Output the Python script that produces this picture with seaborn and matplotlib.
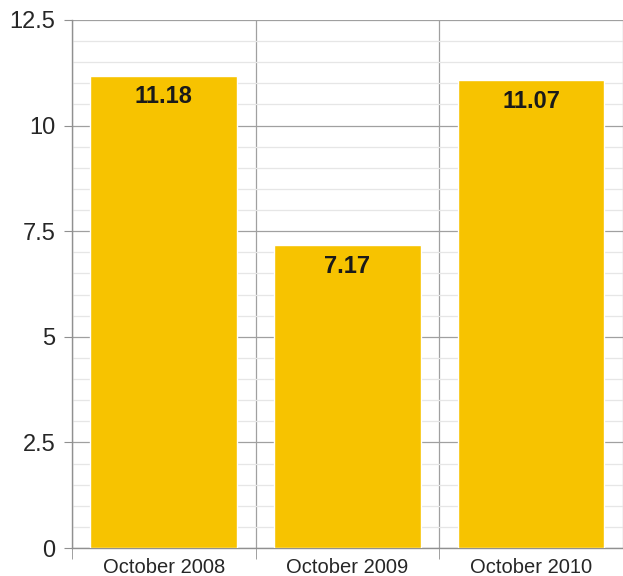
import numpy as np
import matplotlib
matplotlib.use("Agg")
import matplotlib.pyplot as plt
from matplotlib.ticker import MultipleLocator, FixedLocator, FuncFormatter
import seaborn as sns

periods = ["October 2008", "October 2009", "October 2010"]
values = [11.18, 7.17, 11.07]
bar_color = "#F7C300"

sns.set_style("white")
plt.rcParams["font.family"] = ["Liberation Sans", "DejaVu Sans"]

fig = plt.figure(figsize=(6.23, 5.76), dpi=100)
ax = fig.add_axes([0.1156, 0.0486, 0.884, 0.9167])

sns.barplot(x=periods, y=values, color=bar_color, saturation=1, width=0.8, ax=ax, zorder=3)

ax.set_ylim(0, 12.5)
ax.set_xlim(-0.5, 2.5)
ax.yaxis.set_major_locator(FixedLocator([0, 2.5, 5, 7.5, 10, 12.5]))
ax.yaxis.set_minor_locator(MultipleLocator(0.5))
ax.yaxis.set_major_formatter(FuncFormatter(lambda v, p: f"{v:g}"))
ax.xaxis.set_minor_locator(FixedLocator([-0.5, 0.5, 1.5, 2.5]))

ax.grid(axis="y", which="major", color="#a0a0a0", linewidth=0.9, zorder=0)
ax.grid(axis="y", which="minor", color="#e6e6e6", linewidth=0.9, zorder=0)
ax.grid(axis="x", which="minor", color="#a0a0a0", linewidth=0.9, zorder=0)
ax.set_axisbelow(True)

ax.tick_params(axis="y", which="major", length=6, color="#909090", labelsize=17, pad=6, left=True)
ax.tick_params(axis="y", which="minor", length=0)
ax.tick_params(axis="x", which="major", length=0, labelsize=14.5, pad=7)
ax.tick_params(axis="x", which="minor", length=8, color="#909090", bottom=True)

for side in ["top", "right"]:
    ax.spines[side].set_visible(False)
for side in ["left", "bottom"]:
    ax.spines[side].set_color("#909090")
    ax.spines[side].set_linewidth(1)

for i, v in enumerate(values):
    ax.text(i, v - 0.5, f"{v:.2f}", ha="center", va="center", fontsize=17, fontweight="bold", color="#1a1a1a", zorder=4)

ax.set_xlabel("")
ax.set_ylabel("")
fig.savefig("out.png", dpi=100)
